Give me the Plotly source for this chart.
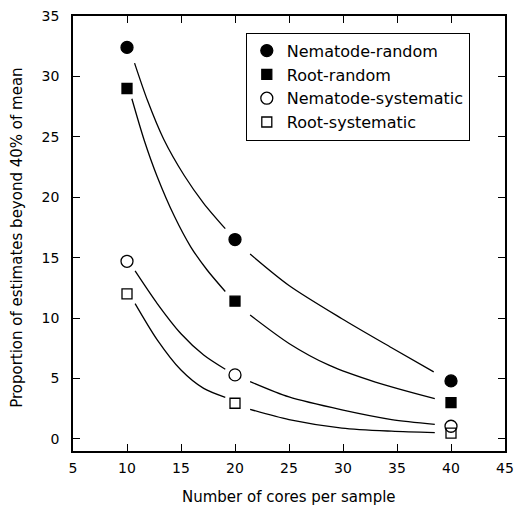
import plotly.graph_objects as go

# Observed data
cores = [10, 20, 40]
nematode_random = [32.4, 16.5, 4.8]
root_random = [29.0, 11.4, 3.0]
nematode_systematic = [14.7, 5.3, 1.05]
root_systematic = [12.0, 2.95, 0.48]

# Fitted curves (two segments each, gap near x=20)
nr_x1 = [10.7, 11.9, 13.4, 15.3, 17.1, 19.1]
nr_y1 = [31.1, 28.0, 24.8, 21.8, 19.5, 17.4]
nr_x2 = [21.4, 25.0, 29.9, 34.5, 38.4]
nr_y2 = [15.3, 12.7, 9.95, 7.55, 5.55]

rr_x1 = [10.45, 11.6, 12.8, 14.4, 15.9, 17.4, 19.1]
rr_y1 = [28.15, 24.7, 21.7, 18.4, 15.9, 14.0, 12.2]
rr_x2 = [21.4, 25.0, 28.7, 33.0, 38.5]
rr_y2 = [10.25, 7.9, 6.1, 4.7, 3.33]

ns_x1 = [10.75, 12.8, 15.0, 17.1, 19.1]
ns_y1 = [13.9, 11.2, 8.7, 6.94, 5.76]
ns_x2 = [21.4, 25.0, 29.9, 34.5, 38.5]
ns_y2 = [4.74, 3.47, 2.4, 1.6, 1.21]

rs_x1 = [10.75, 12.8, 15.0, 17.1, 19.1]
rs_y1 = [11.2, 8.2, 5.7, 4.18, 3.44]
rs_x2 = [21.4, 25.0, 29.9, 34.5, 38.5]
rs_y2 = [2.45, 1.6, 0.9, 0.64, 0.52]

x_ticks = [5, 10, 15, 20, 25, 30, 35, 40, 45]
y_ticks = [0, 5, 10, 15, 20, 25, 30, 35]

FONT = "DejaVu Sans"

fig = go.Figure()

curves = [
    (nr_x1, nr_y1, nr_x2, nr_y2),
    (rr_x1, rr_y1, rr_x2, rr_y2),
    (ns_x1, ns_y1, ns_x2, ns_y2),
    (rs_x1, rs_y1, rs_x2, rs_y2),
]
for x1, y1, x2, y2 in curves:
    for xs, ys in ((x1, y1), (x2, y2)):
        fig.add_trace(go.Scatter(
            x=xs, y=ys, mode="lines",
            line=dict(color="black", width=1.3, shape="spline", smoothing=0.8),
            showlegend=False, hoverinfo="skip",
        ))

series = [
    ("Nematode-random", nematode_random, "circle", 12),
    ("Root-random", root_random, "square", 10),
    ("Nematode-systematic", nematode_systematic, "circle-open", 12),
    ("Root-systematic", root_systematic, "square-open", 10),
]
for name, ys, sym, size in series:
    fig.add_trace(go.Scatter(
        x=cores, y=ys, mode="markers", name=name,
        marker=dict(symbol=sym, size=size, color="black",
                    line=dict(color="black", width=1.3)),
    ))

axis_common = dict(
    showline=True, linecolor="black", linewidth=1.5, mirror="ticks",
    ticks="inside", ticklen=7, tickwidth=1.3, tickcolor="black",
    showgrid=False, zeroline=False, automargin=False,
    ticklabeloverflow="allow",
    tickfont=dict(family=FONT, size=14, color="black"),
)

# The page body adds an 8px margin, so the figure is sized and its margins
# shifted to keep the plot area where the reference has it.
fig.update_layout(
    width=506, height=498,
    margin=dict(l=65, r=9, t=8, b=55),
    paper_bgcolor="white", plot_bgcolor="white",
    font=dict(family=FONT, color="black"),
    xaxis=dict(range=[5, 45], tickvals=x_ticks, ticklabelstandoff=3,
               **axis_common),
    yaxis=dict(range=[-1, 35], tickvals=y_ticks, ticklabelstandoff=9,
               **axis_common),
    legend=dict(
        x=0.40, y=0.9616, xanchor="left", yanchor="top",
        bordercolor="black", borderwidth=1, bgcolor="white",
        font=dict(family=FONT, size=16, color="black"),
        itemwidth=30, tracegroupgap=0,
    ),
    annotations=[
        dict(text="Number of cores per sample", xref="paper", yref="paper",
             x=0.5, y=-0.1057, xanchor="center", yanchor="middle",
             showarrow=False, font=dict(family=FONT, size=15, color="black")),
        dict(text="Proportion of estimates beyond 40% of mean",
             xref="paper", yref="paper", x=-0.1296, y=0.49,
             xanchor="center", yanchor="middle", textangle=-90,
             showarrow=False, font=dict(family=FONT, size=15, color="black")),
    ],
)

fig.write_html("out.html")
